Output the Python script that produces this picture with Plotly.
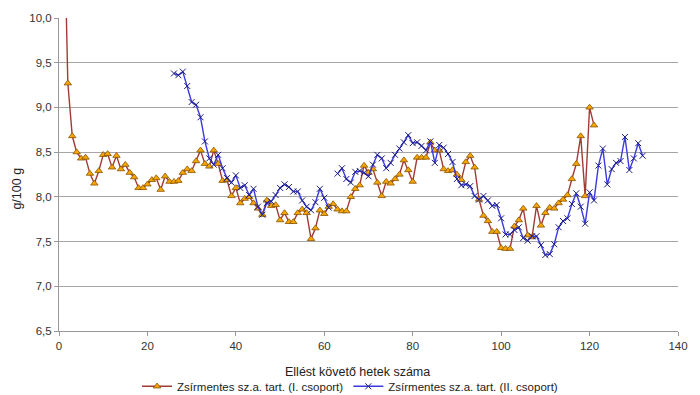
import plotly.graph_objects as go

# Zsírmentes szárazanyag-tartalom (g/100 g) az ellést követő hetek szerint
weeks_1 = list(range(1, 122))
group_1 = [
    11.5, 9.27, 8.68, 8.50, 8.43, 8.44, 8.26, 8.15, 8.29, 8.47,
    8.48, 8.33, 8.46, 8.31, 8.36, 8.27, 8.22, 8.10, 8.10, 8.14,
    8.19, 8.21, 8.08, 8.23, 8.17, 8.17, 8.18, 8.27, 8.31, 8.29,
    8.40, 8.52, 8.37, 8.34, 8.52, 8.37, 8.18, 8.19, 8.01, 8.10,
    7.93, 7.98, 8.00, 7.93, 7.87, 7.80, 7.96, 7.90, 7.91, 7.74,
    7.82, 7.72, 7.72, 7.82, 7.86, 7.82, 7.53, 7.65, 7.85, 7.81,
    7.89, 7.92, 7.86, 7.84, 7.84, 8.00, 8.09, 8.13, 8.35, 8.27,
    8.31, 8.16, 8.01, 8.17, 8.15, 8.20, 8.25, 8.41, 8.30, 8.17,
    8.44, 8.44, 8.44, 8.61, 8.52, 8.52, 8.31, 8.29, 8.30, 8.25,
    8.19, 8.39, 8.46, 8.33, 7.97, 7.79, 7.73, 7.61, 7.61, 7.43,
    7.42, 7.42, 7.67, 7.74, 7.87, 7.57, 7.55, 7.90, 7.68, 7.82,
    7.88, 7.87, 7.93, 7.97, 8.02, 8.20, 8.37, 8.68, 8.01, 9.00,
    8.80,
]

weeks_2 = list(range(26, 133))
group_2 = [
    9.38, 9.36, 9.40, 9.24, 9.06, 9.03, 8.89, 8.62, 8.43, 8.36,
    8.47, 8.32, 8.21, 8.16, 8.24, 8.10, 8.13, 8.02, 8.09, 7.89,
    7.80, 7.93, 7.95, 8.02, 8.10, 8.14, 8.11, 8.06, 8.06, 7.96,
    7.89, 7.85, 7.94, 8.09, 7.99, 7.88, None, 8.26, 8.32, 8.20,
    8.16, 8.28, 8.29, 8.27, 8.23, 8.36, 8.47, 8.43, 8.32, 8.38,
    8.47, 8.54, 8.61, 8.69, 8.60, 8.61, 8.57, 8.52, 8.62, 8.38,
    8.58, 8.55, 8.48, 8.39, 8.20, 8.13, 8.14, 8.12, 8.01, 7.97,
    8.01, 7.96, 7.90, 7.91, 7.76, 7.58, 7.58, 7.63, 7.66, 7.54,
    7.51, 7.56, 7.56, 7.46, 7.35, 7.36, 7.47, 7.66, 7.73, 7.76,
    7.92, 8.04, 7.89, 7.70, 8.05, 7.96, 8.35, 8.54, 8.14, 8.31,
    8.38, 8.40, 8.67, 8.30, 8.43, 8.60, 8.46,
]

name_1 = "Zsírmentes sz.a. tart. (I. csoport)"
name_2 = "Zsírmentes sz.a. tart. (II. csoport)"
x_title = "Ellést követő hetek száma"
y_title = "g/100 g"

FONT = "Liberation Sans, Arial, sans-serif"

fig = go.Figure()
fig.add_trace(go.Scatter(
    x=weeks_1, y=group_1, name=name_1, mode="lines+markers",
    line=dict(color="#a23b36", width=1.4),
    marker=dict(symbol="triangle-up", size=6.5, color="#f7a600",
                line=dict(color="#8a5200", width=0.8)),
))
fig.add_trace(go.Scatter(
    x=weeks_2, y=group_2, name=name_2, mode="lines+markers",
    connectgaps=False,
    line=dict(color="#3a3ae0", width=1.4),
    marker=dict(symbol="x-thin", size=6, color="#1c1c80",
                line=dict(color="#1c1c80", width=1)),
))

fig.update_layout(
    width=700, height=395,
    margin=dict(l=59, r=12, t=15, b=64),
    paper_bgcolor="white", plot_bgcolor="white",
    separators=",.",
    font=dict(family=FONT, size=11, color="#333333"),
    showlegend=True,
    legend=dict(
        orientation="h", xref="container", yref="container",
        x=0.5, xanchor="center", y=0.022, yanchor="middle",
        font=dict(size=11.5, color="#222222"),
        itemwidth=30, tracegroupgap=0,
    ),
    annotations=[
        dict(text=x_title, xref="paper", yref="paper",
             x=0.4815, y=-0.13, xanchor="center", yanchor="middle",
             showarrow=False, font=dict(size=12.5, color="#222222")),
        dict(text=y_title, xref="paper", yref="paper",
             x=-0.0673, y=0.456, xanchor="center", yanchor="middle",
             textangle=-90, showarrow=False,
             font=dict(size=12.5, color="#222222")),
    ],
)

fig.update_xaxes(
    range=[0, 140], dtick=20, tick0=0,
    showgrid=False, zeroline=False,
    showline=True, linecolor="#999999", linewidth=1,
    ticks="outside", ticklen=4, tickcolor="#999999",
    tickfont=dict(size=11.5, color="#333333"),
)
fig.update_yaxes(
    range=[6.5, 10.0], dtick=0.5, tick0=6.5, tickformat=".1f",
    showgrid=True, gridcolor="#a6a6a6", gridwidth=1,
    zeroline=False,
    showline=True, linecolor="#999999", linewidth=1,
    ticks="outside", ticklen=4, tickcolor="#999999",
    tickfont=dict(size=11.5, color="#333333"),
)

fig.write_html("out.html")
